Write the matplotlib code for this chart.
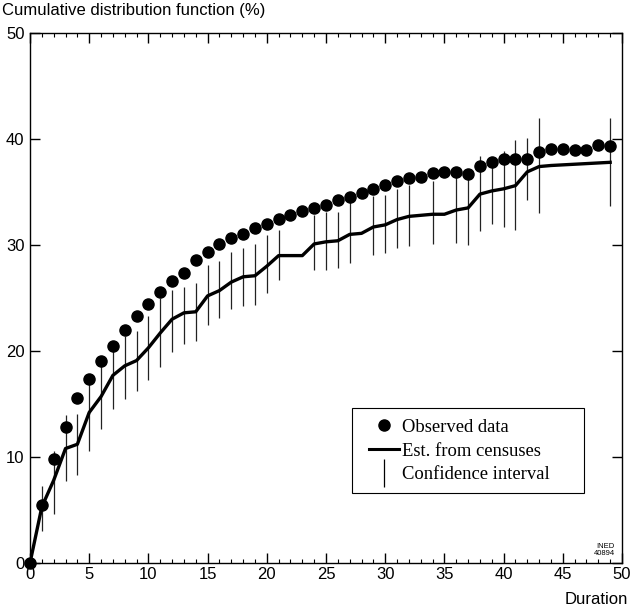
import numpy as np
import matplotlib.pyplot as plt
from matplotlib.lines import Line2D
from matplotlib.patches import Rectangle
from matplotlib.ticker import MultipleLocator

# observed cumulative distribution (%), durations 0..49
duration = list(range(50))
observed = [0.0, 5.5, 9.8, 12.8, 15.6, 17.4, 19.1, 20.5, 22.0, 23.3,
            24.4, 25.6, 26.6, 27.4, 28.6, 29.3, 30.1, 30.7, 31.0, 31.6,
            32.0, 32.5, 32.8, 33.2, 33.5, 33.8, 34.2, 34.5, 34.9, 35.3,
            35.7, 36.0, 36.3, 36.4, 36.8, 36.9, 36.9, 36.7, 37.5, 37.8,
            38.1, 38.1, 38.1, 38.8, 39.1, 39.1, 39.0, 39.0, 39.4, 39.3]

# estimated from censuses
est_x = list(range(45)) + [49]
estimated = [0.0, 5.3, 7.8, 10.8, 11.2, 14.2, 15.7, 17.7, 18.6, 19.1,
             20.3, 21.7, 23.0, 23.6, 23.7, 25.2, 25.7, 26.5, 27.0, 27.1,
             28.0, 29.0, 29.0, 29.0, 30.1, 30.3, 30.4, 31.0, 31.1, 31.7,
             31.9, 32.4, 32.7, 32.8, 32.9, 32.9, 33.3, 33.5, 34.8, 35.1,
             35.3, 35.6, 36.9, 37.4, 37.5, 37.8]

# confidence intervals
ci_x = [1, 2, 3, 4, 5, 6, 7, 8, 9, 10, 11, 12, 13, 14, 15, 16, 17, 18, 19,
        20, 21, 24, 25, 26, 27, 29, 30, 31, 32, 34, 36, 37, 38, 39, 40, 41,
        42, 43, 49]
ci_low = [3.0, 4.6, 7.7, 8.3, 10.6, 12.6, 14.5, 15.5, 16.2, 17.3, 18.5,
          19.9, 20.7, 20.9, 22.5, 23.1, 24.0, 24.2, 24.3, 25.5, 26.7, 27.6,
          27.6, 27.8, 28.3, 29.1, 29.2, 29.7, 29.9, 30.1, 30.2, 30.0, 31.3,
          32.0, 31.7, 31.4, 34.2, 33.0, 33.7]
ci_high = [7.3, 10.6, 14.0, 14.1, 17.0, 18.7, 20.1, 21.4, 21.9, 23.3, 25.0,
           25.8, 26.0, 26.4, 28.1, 28.5, 29.3, 29.7, 30.1, 30.9, 31.4, 32.8,
           33.1, 33.1, 34.1, 34.6, 34.7, 35.3, 35.7, 36.0, 36.4, 36.4, 38.4,
           38.2, 38.9, 39.9, 40.1, 42.0, 42.0]

sans = ['Liberation Sans', 'DejaVu Sans']
serif = ['Liberation Serif', 'DejaVu Serif']

fig = plt.figure(figsize=(6.32, 6.12), dpi=100)
ax = fig.add_axes([30 / 632, 1 - 563 / 612, 592 / 632, 530 / 612])

ax.vlines(ci_x, ci_low, ci_high, color='#222222', linewidth=0.9, zorder=2)
ax.plot(est_x, estimated, color='black', linewidth=2.4, zorder=3)
ax.plot(duration, observed, 'o', color='black', markersize=8, zorder=4,
        clip_on=False)

ax.set_xlim(0, 50)
ax.set_ylim(0, 50)
ax.xaxis.set_major_locator(MultipleLocator(5))
ax.xaxis.set_minor_locator(MultipleLocator(1))
ax.yaxis.set_major_locator(MultipleLocator(10))
ax.tick_params(axis='both', which='major', direction='in', length=7,
               width=1, top=True, right=True, labelsize=12)
ax.tick_params(axis='both', which='minor', direction='in', length=3,
               width=0.8, top=True, right=False, left=False)
ax.tick_params(axis='x', pad=3)
ax.tick_params(axis='y', pad=4)
for lab in ax.get_xticklabels() + ax.get_yticklabels():
    lab.set_family(sans)
for s in ax.spines.values():
    s.set_linewidth(1.0)

# legend box drawn separately to get the wide frame
ax.add_patch(Rectangle((0.544, 0.132), 0.392, 0.160, transform=ax.transAxes,
                       facecolor='white', edgecolor='black', linewidth=0.8,
                       zorder=5))
handles = [
    Line2D([], [], marker='o', color='black', linestyle='None', markersize=8),
    Line2D([], [], color='black', linewidth=2.2),
    Line2D([], [], marker='|', color='black', linestyle='None',
           markersize=20, markeredgewidth=0.9),
]
labels = ['Observed data', 'Est. from censuses', 'Confidence interval']
leg = ax.legend(handles, labels, loc='upper left',
                bbox_to_anchor=(0.5726, 0.272), frameon=False,
                handlelength=1.6, handletextpad=0.2, labelspacing=0.36,
                borderpad=0, borderaxespad=0,
                prop={'family': serif, 'size': 13.4})
leg.set_zorder(6)

fig.text(2 / 632, 1 - 11 / 612, 'Cumulative distribution function (%)',
         family=sans, fontsize=12, va='center', ha='left')
fig.text(628 / 632, 1 - 599 / 612, 'Duration', family=sans, fontsize=12,
         va='center', ha='right')
ax.text(0.988, 0.011, 'INED\n40894', transform=ax.transAxes, family=sans,
        fontsize=5.5, ha='right', va='bottom', linespacing=1.1)

fig.savefig('out.png', dpi=100)
